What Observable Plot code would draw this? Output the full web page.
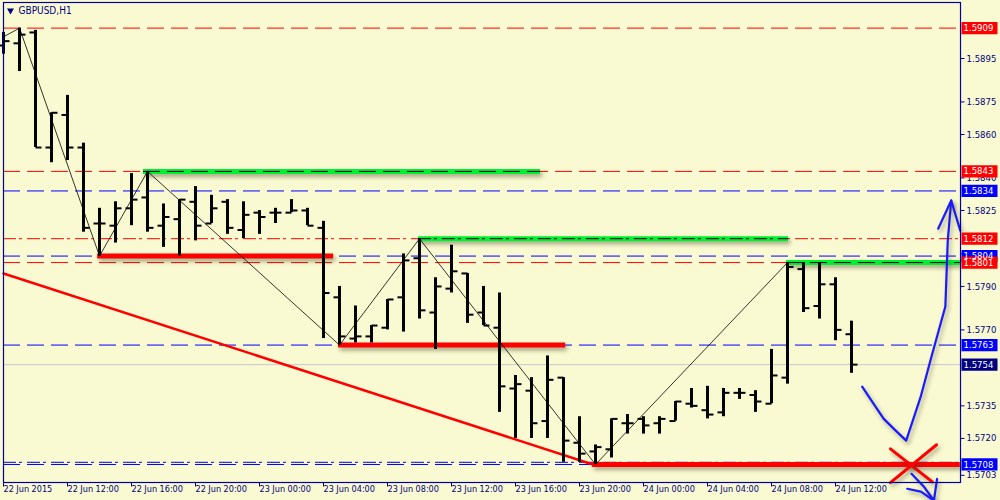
<!DOCTYPE html>
<html><head><meta charset="utf-8">
<script src="https://cdn.jsdelivr.net/npm/d3@7"></script>
<script src="https://cdn.jsdelivr.net/npm/@observablehq/plot@0.6"></script>
<style>
html,body{margin:0;padding:0;background:#FAFAD2;}
#chart svg{display:block;}
</style></head><body><div id="chart"></div>
<script>
// ---------- DATA ----------
const symbolName = "GBPUSD,H1";
const barStart = "2015-06-22T08:00Z"; // first H1 bar, consecutive hours
const opens  = [1.5901,1.5902,1.5907,1.5854,1.5869,1.5854,1.5819,1.5818,1.5826,1.5831,1.5818,1.5821,1.5829,1.5819,1.5829,1.5816,1.5824,1.5824,1.5824,1.5825,1.5817,1.5785,1.5766,1.5767,1.5771,1.5785,1.5803,1.5778,1.5789,1.5796,1.5778,1.5771,1.5743,1.5742,1.5728,1.5748,1.5718,1.5714,1.5715,1.5727,1.5729,1.5727,1.5728,1.5736,1.5733,1.5732,1.5741,1.5740,1.5736,1.5748,1.5798,1.5781,1.5791,1.5768];
const highs  = [1.5907,1.5909,1.5908,1.5870,1.5878,1.5856,1.5826,1.5829,1.5842,1.5843,1.5828,1.5830,1.5836,1.5832,1.5830,1.5829,1.5825,1.5826,1.5830,1.5826,1.5820,1.5790,1.5781,1.5772,1.5784,1.5805,1.5812,1.5794,1.5809,1.5796,1.5790,1.5787,1.5749,1.5748,1.5758,1.5748,1.5730,1.5717,1.5729,1.5731,1.5730,1.5730,1.5737,1.5743,1.5744,1.5743,1.5743,1.5742,1.5761,1.5801,1.5801,1.5801,1.5794,1.5774];
const lows   = [1.5897,1.5889,1.5854,1.5847,1.5848,1.5815,1.5804,1.5810,1.5818,1.5815,1.5808,1.5804,1.5811,1.5819,1.5814,1.5812,1.5814,1.5819,1.5824,1.5818,1.5766,1.5763,1.5764,1.5764,1.5770,1.5769,1.5775,1.5761,1.5787,1.5773,1.5772,1.5732,1.5720,1.5720,1.5720,1.5709,1.5709,1.5708,1.5711,1.5722,1.5722,1.5722,1.5728,1.5734,1.5729,1.5730,1.5738,1.5732,1.5736,1.5745,1.5778,1.5775,1.5765,1.5750];
const closes = [1.5903,1.5906,1.5854,1.5870,1.5854,1.5817,1.5819,1.5826,1.5830,1.5817,1.5822,1.5830,1.5818,1.5826,1.5817,1.5823,1.5822,1.5824,1.5825,1.5818,1.5787,1.5767,1.5767,1.5772,1.5784,1.5802,1.5779,1.5790,1.5797,1.5777,1.5772,1.5744,1.5745,1.5727,1.5747,1.5719,1.5713,1.5716,1.5729,1.5727,1.5726,1.5729,1.5737,1.5735,1.5731,1.5741,1.5741,1.5737,1.5749,1.5799,1.5780,1.5791,1.5770,1.5754];

// horizontal price levels
const levelPrices = [1.5909, 1.5843, 1.5834, 1.5812, 1.5804, 1.5801, 1.5763, 1.5754, 1.5709, 1.5708];
const levelColors = ["#ff0000","#ff0000","#0000ff","#ff0000","#0000ff","#ff0000","#0000ff","#c8c8d0","#0000ff","#0000ff"];
const levelStyles = ["dash","dash","dash","dashdot","dash","dash","dash","solid","dashdot","dash"];

// thick support / resistance segments
const segPrices = [1.5843, 1.5804, 1.5812, 1.5763, 1.5801, 1.5708];
const segColors = ["#00f030","#ff0000","#00f030","#ff0000","#00f030","#ff0000"];
const segStarts = ["2015-06-22T16:45Z","2015-06-22T13:53Z","2015-06-23T09:56Z","2015-06-23T04:56Z","2015-06-24T08:56Z","2015-06-23T20:49Z"];
const segEnds   = ["2015-06-23T17:34Z","2015-06-23T04:38Z","2015-06-24T09:04Z","2015-06-23T19:08Z","2015-06-24T19:48Z","2015-06-24T19:48Z"];
const segOverlay = ["dash", null, "dashdot", null, "dash", null];

// zigzag pivots (bar index from barStart, price)
const zigBars   = [0, 1, 6, 9, 21, 26, 37, 49];
const zigPrices = [1.5905, 1.5909, 1.5804, 1.5843, 1.5763, 1.5812, 1.5708, 1.5801];

// red trend line
const trendTimes  = ["2015-06-22T08:00Z", "2015-06-23T20:50Z"];
const trendPrices = [1.5796, 1.5708];

// hand-drawn annotations
const curveTimes  = ["2015-06-24T13:40Z","2015-06-24T14:23Z","2015-06-24T15:01Z","2015-06-24T15:39Z","2015-06-24T16:25Z","2015-06-24T17:19Z","2015-06-24T17:56Z","2015-06-24T18:27Z","2015-06-24T18:52Z","2015-06-24T18:56Z","2015-06-24T19:01Z","2015-06-24T19:14Z"];
const curvePrices = [1.57439,1.57359,1.57290,1.57244,1.57190,1.57390,1.57559,1.57697,1.57808,1.57943,1.58112,1.58296];
const headTimes   = ["2015-06-24T18:25Z","2015-06-24T19:14Z","2015-06-24T19:48Z"];
const headPrices  = [1.58166,1.58296,1.58157];
const crossATimes = ["2015-06-24T15:26Z","2015-06-24T18:03Z"];
const crossAPrices= [1.57152,1.57000];
const crossBTimes = ["2015-06-24T18:19Z","2015-06-24T15:26Z"];
const crossBPrices= [1.57171,1.56996];
const downTimes   = ["2015-06-24T16:45Z","2015-06-24T17:30Z","2015-06-24T18:09Z"];
const downPrices  = [1.57037,1.56980,1.56914];
const downLTimes  = ["2015-06-24T16:29Z","2015-06-24T17:20Z","2015-06-24T18:09Z"];
const downLPrices = [1.56968,1.56955,1.56914];
const downRTimes  = ["2015-06-24T18:21Z","2015-06-24T18:09Z"];
const downRPrices = [1.57014,1.56914];

// axes
const xDomain = ["2015-06-22T08:00Z", "2015-06-24T19:48:45Z"];
const yDomain = [1.56997, 1.59208];
const timeTicks = ["2015-06-22T08:00Z","2015-06-22T12:00Z","2015-06-22T16:00Z","2015-06-22T20:00Z","2015-06-23T00:00Z","2015-06-23T04:00Z","2015-06-23T08:00Z","2015-06-23T12:00Z","2015-06-23T16:00Z","2015-06-23T20:00Z","2015-06-24T00:00Z","2015-06-24T04:00Z","2015-06-24T08:00Z","2015-06-24T12:00Z"];
const timeLabels = ["22 Jun 2015","22 Jun 12:00","22 Jun 16:00","22 Jun 20:00","23 Jun 00:00","23 Jun 04:00","23 Jun 08:00","23 Jun 12:00","23 Jun 16:00","23 Jun 20:00","24 Jun 00:00","24 Jun 04:00","24 Jun 08:00","24 Jun 12:00"];
const priceTicks = [1.5895,1.5875,1.5860,1.5840,1.5825,1.5805,1.5790,1.5770,1.5735,1.5720,1.5703];
const priceLabels = ["1.5895","1.5875","1.5860","1.5840","1.5825","1.5805","1.5790","1.5770","1.5735","1.5720","1.5703"];

// price tags on the right scale
const tagPrices = [1.5909, 1.5843, 1.5834, 1.5812, 1.5804, 1.5801, 1.5763, 1.5754, 1.5708];
const tagColors = ["#ff0000","#ff0000","#0000ff","#ff0000","#0000ff","#ff0000","#0000ff","#000080","#0000ff"];

// ---------- BUILD ----------
const t0 = new Date(barStart);
const bars = opens.map((o, i) => ({date: d3.utcHour.offset(t0, i), open: o, high: highs[i], low: lows[i], close: closes[i]}));
const levels = levelPrices.map((p, i) => ({price: p, color: levelColors[i], style: levelStyles[i]}));
const segs = segPrices.map((p, i) => ({price: p, color: segColors[i], x1: new Date(segStarts[i]), x2: new Date(segEnds[i]), overlay: segOverlay[i]}));
const zig = zigBars.map((b, i) => ({date: d3.utcHour.offset(t0, b), price: zigPrices[i]}));
const pts = (ts, ps) => ts.map((t, i) => ({date: new Date(t), price: ps[i]}));
const trend = pts(trendTimes, trendPrices);
const curve = pts(curveTimes, curvePrices);
const head = pts(headTimes, headPrices);
const crossA = pts(crossATimes, crossAPrices), crossB = pts(crossBTimes, crossBPrices);
const downA = pts(downTimes, downPrices), downL = pts(downLTimes, downLPrices), downR = pts(downRTimes, downRPrices);
const xTicks = timeTicks.map((t, i) => ({date: new Date(t), label: timeLabels[i]}));
const yTicks = priceTicks.map((p, i) => ({price: p, label: priceLabels[i]}));
const tags = tagPrices.map((p, i) => ({price: p, color: tagColors[i], label: p.toFixed(4)}));

const rad = (s) => Math.sqrt(s / Math.PI);
const leftTick  = {draw(c, s) { const r = rad(s); c.moveTo(-r, 0); c.lineTo(0, 0); }};
const rightTick = {draw(c, s) { const r = rad(s); c.moveTo(0, 0); c.lineTo(r, 0); }};
const downTick  = {draw(c, s) { const r = rad(s); c.moveTo(0, 0); c.lineTo(0, r); }};
const tagBox    = {draw(c, s) { const r = rad(s), h = r * 0.34; c.moveTo(-r, -h); c.lineTo(r, -h); c.lineTo(r, h); c.lineTo(-r, h); c.closePath(); }};

const NAVY = "#000080", FRAME = "#0000a0";
const FONT = "DejaVu Sans Condensed, DejaVu Sans, sans-serif";
const DASH = "17,7", DASHDOT = "13,3,3,5";

const chart = Plot.plot({
  width: 1000, height: 500,
  marginTop: 2, marginLeft: 3, marginRight: 40, marginBottom: 18,
  style: {background: "#FAFAD2", fontFamily: FONT},
  x: {type: "utc", domain: xDomain.map(d => new Date(d)), axis: null},
  y: {domain: yDomain, axis: null},
  marks: [
    Plot.ruleY(levels.filter(d => d.style === "dash"), {y: "price", stroke: "color", strokeWidth: 1, strokeDasharray: DASH}),
    Plot.ruleY(levels.filter(d => d.style === "dashdot"), {y: "price", stroke: "color", strokeWidth: 1, strokeDasharray: DASHDOT}),
    Plot.ruleY(levels.filter(d => d.style === "solid"), {y: "price", stroke: "color", strokeWidth: 1}),
    Plot.line(trend, {x: "date", y: "price", stroke: "#ff0000", strokeWidth: 2.5}),
    Plot.ruleY(segs, {y: "price", x1: "x1", x2: "x2", stroke: "color", strokeWidth: 5, ariaDescription: "shadow"}),
    Plot.ruleY(segs.filter(d => d.overlay === "dash"), {y: "price", x1: "x1", x2: "x2", stroke: "#000", strokeWidth: 1, strokeDasharray: DASH}),
    Plot.ruleY(segs.filter(d => d.overlay === "dashdot"), {y: "price", x1: "x1", x2: "x2", stroke: "#000", strokeWidth: 1, strokeDasharray: DASHDOT}),
    Plot.ruleX(bars, {x: "date", y1: "low", y2: "high", stroke: "#000", strokeWidth: 3}),
    Plot.dot(bars, {x: "date", y: "open", symbol: leftTick, r: 6, fill: "none", stroke: "#000", strokeWidth: 2}),
    Plot.dot(bars, {x: "date", y: "close", symbol: rightTick, r: 6, fill: "none", stroke: "#000", strokeWidth: 2}),
    Plot.line(zig, {x: "date", y: "price", stroke: "#000", strokeWidth: 0.8}),
    Plot.line(curve, {x: "date", y: "price", stroke: "#1a1aff", strokeWidth: 2.2, ariaDescription: "shadow"}),
    Plot.line(head, {x: "date", y: "price", stroke: "#1a1aff", strokeWidth: 2.2, ariaDescription: "shadow"}),
    Plot.line(crossA, {x: "date", y: "price", stroke: "#ff0000", strokeWidth: 3, ariaDescription: "shadow"}),
    Plot.line(crossB, {x: "date", y: "price", stroke: "#ff0000", strokeWidth: 3, ariaDescription: "shadow"}),
    Plot.line(downA, {x: "date", y: "price", stroke: "#1a1aff", strokeWidth: 2.2, ariaDescription: "shadow"}),
    Plot.line(downL, {x: "date", y: "price", stroke: "#1a1aff", strokeWidth: 2.2, ariaDescription: "shadow"}),
    Plot.line(downR, {x: "date", y: "price", stroke: "#1a1aff", strokeWidth: 2.2, ariaDescription: "shadow"}),
    Plot.frame({stroke: FRAME, strokeWidth: 1.2}),
    // time axis
    Plot.dot(xTicks, {x: "date", frameAnchor: "bottom", symbol: downTick, r: 4, fill: "none", stroke: FRAME, strokeWidth: 1}),
    Plot.text(xTicks, {x: "date", frameAnchor: "bottom", dy: 9, textAnchor: "start", text: "label", fill: NAVY, fontSize: 9, fontFamily: FONT}),
    // price axis
    Plot.dot(yTicks, {y: "price", frameAnchor: "right", symbol: rightTick, r: 4, fill: "none", stroke: FRAME, strokeWidth: 1}),
    Plot.text(yTicks, {y: "price", frameAnchor: "right", dx: 6, textAnchor: "start", text: "label", fill: NAVY, fontSize: 9.5, fontFamily: FONT}),
    // price tags
    Plot.dot(tags, {y: "price", frameAnchor: "right", dx: 19, symbol: tagBox, r: 18, fill: "color", stroke: "none"}),
    Plot.text(tags, {y: "price", frameAnchor: "right", dx: 3, textAnchor: "start", text: "label", fill: "#fff", fontSize: 9.5, fontFamily: FONT}),
    // title
    Plot.dot([symbolName], {frameAnchor: "top-left", dx: 7, dy: 8, symbol: "triangle", rotate: 180, r: 2.6, fill: NAVY, stroke: "none"}),
    Plot.text([symbolName], {frameAnchor: "top-left", dx: 15, dy: 8, textAnchor: "start", lineAnchor: "middle", text: d => d, fill: NAVY, fontSize: 10, fontFamily: FONT})
  ]
});
d3.select(chart).selectAll('g[aria-description="shadow"]').style("filter", "drop-shadow(2px 3px 2px rgba(60,60,30,0.45))");
document.getElementById("chart").appendChild(chart);
</script>
</body></html>
